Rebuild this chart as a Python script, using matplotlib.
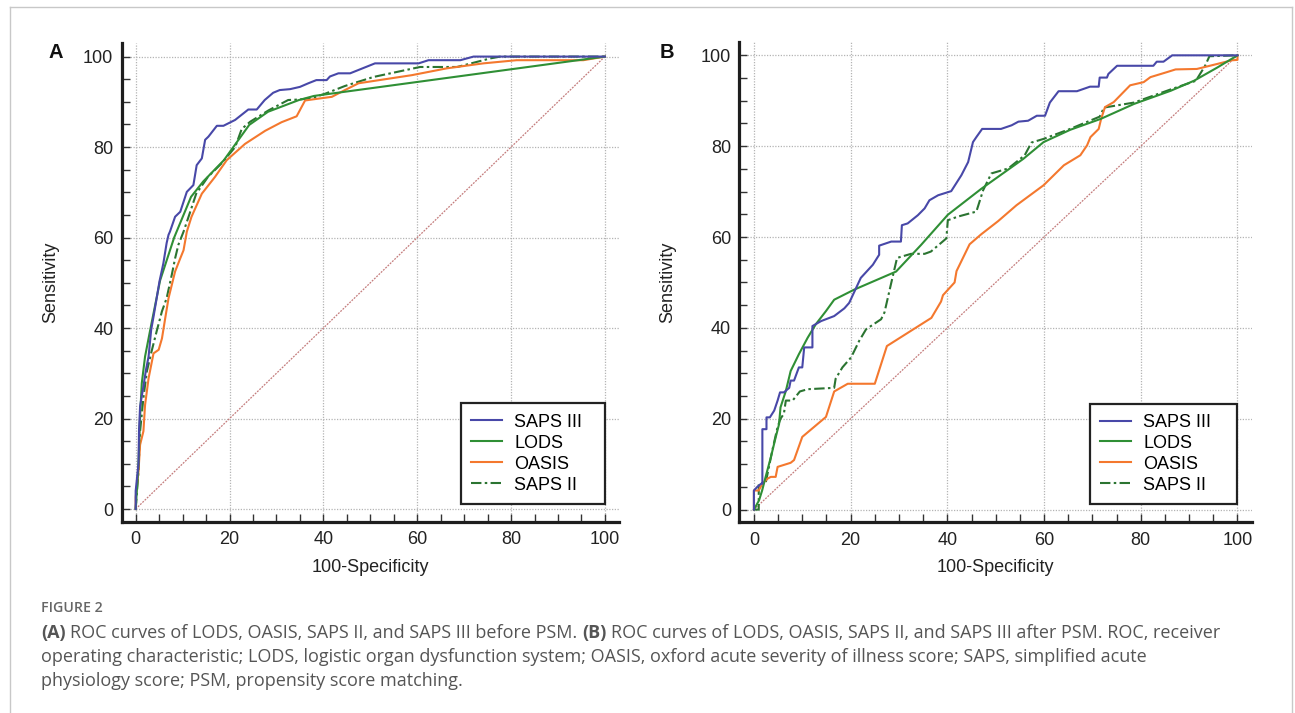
import numpy as np
import matplotlib
matplotlib.use("Agg")
import matplotlib.pyplot as plt
from matplotlib.ticker import MultipleLocator
from matplotlib.lines import Line2D

plt.rcParams["font.family"] = ["Liberation Sans", "DejaVu Sans"]

# ---- data: (100-specificity, sensitivity) ----
# panel A, before PSM
saps3_a = [(0, 0), (0, 4), (0.6, 10), (0.72, 17.6), (0.94, 22.7), (1.65, 27.1), (2.2, 30.8),
           (2.75, 33.7), (3.3, 39.6), (3.8, 42.5), (4.36, 45.9), (5.07, 50.3), (5.9, 54.3),
           (6.6, 58.8), (7.0, 60.6), (7.3, 61.3), (8.4, 64.6), (9.5, 65.7), (10.9, 70.1),
           (12.3, 71.6), (13.0, 76.0), (14.1, 77.5), (14.8, 81.6), (15.5, 82.3), (17.3, 84.7),
           (18.7, 84.7), (21.2, 86.0), (24.0, 88.3), (25.8, 88.3), (27.5, 90.4), (29.3, 92.0),
           (30.7, 92.6), (32.9, 92.8), (35.0, 93.3), (36.8, 94.1), (38.5, 94.8), (40.7, 94.8),
           (41.4, 95.6), (43.2, 96.3), (45.7, 96.3), (51.0, 98.5), (60.3, 98.5), (62.4, 99.2),
           (69.2, 99.2), (72.0, 100), (100, 100)]
lods_a = [(0, 0), (0.6, 10), (0.94, 20.5), (1.3, 27.8), (2.0, 33.7), (3.1, 39.6), (4.1, 44.8),
          (5.2, 50.5), (8.2, 60.0), (11.8, 69.0), (14.4, 72.4), (18.8, 77.1), (24.2, 84.9),
          (28.2, 87.8), (34.8, 90.4), (38.0, 91.3), (100, 100)]
oasis_a = [(0, 0), (0, 2.6), (0.6, 8.3), (0.94, 14.2), (1.65, 17.2), (2.0, 23.0), (2.75, 28.9),
           (3.8, 34.4), (4.9, 35.2), (5.6, 37.7), (6.3, 42.2), (7.0, 46.6), (8.4, 52.5),
           (9.5, 55.4), (10.2, 57.2), (10.9, 61.3), (11.9, 64.6), (14.1, 69.7), (16.9, 73.4),
           (19.4, 77.1), (23.3, 80.7), (27.6, 83.6), (31.1, 85.5), (34.3, 86.8), (36.1, 90.3),
           (38.9, 90.7), (41.8, 91.1), (44.6, 92.6), (47.5, 94.1), (58.9, 95.9), (66.3, 97.4),
           (74.1, 98.5), (81.2, 99.2), (95.4, 99.2), (100, 100)]
saps2_a = [(0, 0), (0.6, 8.3), (0.94, 17.2), (1.65, 24.6), (2.4, 30.5), (3.4, 34.9), (4.5, 39.4),
           (5.6, 43.7), (6.6, 46.6), (7.7, 51.8), (8.4, 55.4), (9.1, 58.4), (10.2, 61.3),
           (11.5, 65.3), (12.9, 69.7), (15.4, 73.4), (18.3, 76.4), (21.2, 80.0), (22.6, 84.0),
           (24.4, 85.6), (28.3, 88.1), (32.5, 90.4), (34.7, 90.5), (37.5, 90.8), (40.4, 91.8),
           (44.6, 93.5), (50.7, 95.5), (60.6, 97.7), (68.5, 97.7), (75.6, 99.6), (77.7, 100),
           (100, 100)]

# panel B, after PSM
saps3_b = [(0, 0), (0, 4.2), (0.7, 5.0), (1.5, 5.7), (1.75, 5.7), (1.75, 17.7), (2.6, 17.7),
           (2.6, 20.3), (3.3, 20.3), (4.2, 21.8), (4.9, 24.0), (5.4, 25.8), (6.2, 25.8),
           (7.3, 26.8), (7.6, 28.4), (8.3, 28.4), (9.3, 31.3), (10.0, 31.3), (10.4, 35.7),
           (12.1, 35.7), (12.1, 40.4), (13.9, 41.5), (16.6, 42.6), (18.7, 44.3), (19.7, 45.5),
           (22.1, 51.0), (24.6, 53.9), (25.9, 56.1), (25.9, 58.1), (28.4, 59.0), (30.4, 59.0),
           (30.6, 62.6), (31.8, 63.0), (33.9, 64.8), (35.3, 66.3), (36.3, 68.1), (38.1, 69.2),
           (40.8, 70.1), (42.9, 73.6), (44.3, 76.5), (45.3, 80.9), (46.0, 82.0), (47.2, 83.8),
           (51.1, 83.8), (53.3, 84.6), (54.7, 85.4), (56.7, 85.6), (58.5, 86.7), (60.2, 86.7),
           (61.2, 89.6), (63.0, 92.1), (66.8, 92.1), (69.5, 93.1), (71.3, 93.1), (71.5, 95.1),
           (73.0, 95.1), (73.3, 95.9), (75.1, 97.7), (82.6, 97.7), (83.3, 98.6), (84.7, 98.6),
           (86.5, 100), (100, 100)]
lods_b = [(0, 0), (1.05, 2.0), (1.7, 4.2), (2.4, 7.1), (3.5, 11.5), (4.5, 15.9), (5.2, 18.8),
          (5.5, 22.5), (6.6, 26.1), (7.6, 30.5), (9.3, 34.2), (11.1, 37.8), (12.8, 40.8),
          (14.9, 43.7), (16.6, 46.2), (20.7, 48.4), (29.4, 52.4), (34.6, 58.3), (40.1, 64.9),
          (47.0, 70.6), (55.7, 77.2), (59.9, 80.9), (65.4, 83.6), (71.7, 86.0), (78.6, 89.3),
          (86.2, 92.2), (91.0, 94.4), (95.8, 97.3), (100, 100)]
oasis_b = [(0, 0), (0, 4.2), (1.0, 4.2), (1.75, 5.7), (2.8, 6.8), (3.5, 7.2), (4.5, 7.2),
           (4.9, 9.4), (7.6, 10.3), (8.3, 10.9), (10.0, 16.0), (14.9, 20.4), (16.6, 26.0),
           (19.4, 27.7), (25.0, 27.7), (27.5, 36.0), (36.7, 42.2), (38.7, 45.8), (39.1, 47.2),
           (41.5, 50.0), (41.9, 52.5), (44.6, 58.4), (47.0, 60.6), (50.5, 63.5), (54.3, 67.0),
           (59.9, 71.4), (64.1, 75.8), (67.5, 78.0), (68.9, 80.2), (69.6, 82.0), (71.3, 83.8),
           (71.8, 86.0), (72.6, 88.6), (74.4, 89.7), (77.8, 93.4), (80.6, 94.1), (82.0, 95.2),
           (85.4, 96.3), (87.2, 96.9), (91.6, 97.0), (95.8, 98.1), (98.8, 98.9), (100, 99.0),
           (100, 100)]
saps2_b = [(0, 0), (1.0, 0), (1.0, 5.7), (2.4, 5.7), (3.8, 13.0), (4.9, 18.2), (5.5, 20.0),
           (6.2, 21.1), (6.6, 24.0), (8.0, 24.0), (9.5, 26.0), (11.1, 26.5), (16.6, 26.8),
           (16.9, 28.8), (18.3, 31.3), (20.1, 33.5), (21.8, 37.2), (23.2, 39.7), (26.3, 41.9),
           (27.0, 43.4), (28.4, 49.9), (29.6, 55.4), (32.5, 56.3), (35.3, 56.3), (36.6, 56.8),
           (39.8, 59.7), (40.1, 63.7), (42.2, 64.5), (46.0, 65.6), (47.4, 70.3), (49.1, 74.0),
           (52.6, 75.1), (56.0, 78.0), (57.4, 80.8), (59.9, 81.6), (65.4, 83.8), (71.5, 86.5),
           (72.4, 88.5), (78.6, 89.6), (86.2, 92.5), (91.4, 94.4), (93.3, 97.7), (94.2, 99.8),
           (100, 100)]

series_names = ["SAPS III", "LODS", "OASIS", "SAPS II"]
series_colors = ["#4848a8", "#2f8f35", "#f4782e", "#2b7431"]
series_styles = ["-", "-", "-", (0, (5, 1.6, 1.2, 1.6))]
panel_data = {"A": [saps3_a, lods_a, oasis_a, saps2_a],
              "B": [saps3_b, lods_b, oasis_b, saps2_b]}

W, H = 1295, 713
fig = plt.figure(figsize=(W / 100, H / 100), dpi=100)

# light frame around the figure
frame_kw = dict(color="#c8c8c8", lw=1.0, transform=fig.transFigure)
fig.add_artist(Line2D([10 / W, 1292 / W], [1 - 7 / H, 1 - 7 / H], **frame_kw))
fig.add_artist(Line2D([10 / W, 10 / W], [0, 1 - 7 / H], **frame_kw))
fig.add_artist(Line2D([1292 / W, 1292 / W], [0, 1 - 7 / H], **frame_kw))

# axes rectangles in pixels: left, top, right, bottom
rects = {"A": (121.6, 43, 619, 521.7), "B": (739.4, 41.7, 1252, 522.3)}
letter_pos = {"A": (55.5, 52.5), "B": (666.5, 53)}
legend_box = {"A": (0.682, 0.037, 0.290, 0.2), "B": (0.684, 0.038, 0.287, 0.2)}
ylabel_x = {"A": 51, "B": 668}

for key in ["A", "B"]:
    l, t, r, b = rects[key]
    ax = fig.add_axes([l / W, 1 - b / H, (r - l) / W, (b - t) / H])
    ax.set_xlim(-3, 103)
    ax.set_ylim(-2.8, 103)
    ax.xaxis.set_major_locator(MultipleLocator(20))
    ax.yaxis.set_major_locator(MultipleLocator(20))
    ax.xaxis.set_minor_locator(MultipleLocator(5))
    ax.yaxis.set_minor_locator(MultipleLocator(5))
    for s in ["top", "right"]:
        ax.spines[s].set_visible(False)
    for s in ["left", "bottom"]:
        ax.spines[s].set_linewidth(2.3)
        ax.spines[s].set_color("#1e1e1e")
    ax.tick_params(which="both", direction="in", length=6, width=1, color="#333333")
    ax.tick_params(which="major", labelsize=13, labelcolor="#222222")
    ax.tick_params(axis="x", pad=7)
    ax.tick_params(axis="y", pad=6)
    ax.grid(which="major", color="#b4b4b4", ls=(0, (1, 1.2)), lw=0.9)
    ax.set_axisbelow(True)

    ax.plot([0, 100], [0, 100], color="#c47c7c", lw=0.9, ls=(0, (1.5, 1)), zorder=2)

    handles = []
    for i in [3, 2, 1, 0]:
        pts = np.array(panel_data[key][i])
        ln, = ax.plot(pts[:, 0], pts[:, 1], color=series_colors[i], ls=series_styles[i],
                      lw=1.5, label=series_names[i], zorder=3 + (3 - i))
        handles.append(ln)
    handles = handles[::-1]

    leg = ax.legend(handles=handles, labels=series_names, loc="lower left",
                    bbox_to_anchor=legend_box[key], mode="expand", borderaxespad=0,
                    fontsize=13, frameon=True, fancybox=False, framealpha=1,
                    edgecolor="#222222", handlelength=1.72, handletextpad=0.67,
                    labelspacing=0.22, borderpad=0.57)
    leg.get_frame().set_linewidth(1.6)
    leg.set_zorder(10)

    ax.set_xlabel("100-Specificity", fontsize=13, color="#222222")
    ax.set_ylabel("Sensitivity", fontsize=13, color="#222222")
    ax.xaxis.set_label_coords(0.5, (b - 567) / (b - t))
    ax.yaxis.set_label_coords((ylabel_x[key] - l) / (r - l), 0.5)
    ax.xaxis.label.set_va("center")
    ax.yaxis.label.set_va("center")

    lx, ly = letter_pos[key]
    fig.text(lx / W, 1 - ly / H, key, fontsize=14.5, fontweight="bold",
             ha="center", va="center", color="#111111")

# ---- caption ----
cap_font = ["Open Sans", "DejaVu Sans"]
cap_color = "#555555"
cap_size = 13.0
fig.text(41 / W, 1 - 612 / H, "FIGURE 2", fontsize=10.2, fontweight="semibold",
         color="#666666", family=cap_font, va="baseline")

caption_lines = [
    [("(A)", "bold"), ("ROC curves of LODS, OASIS, SAPS II, and SAPS III before PSM.", "normal"),
     ("(B)", "bold"), ("ROC curves of LODS, OASIS, SAPS II, and SAPS III after PSM. ROC, receiver", "normal")],
    [("operating characteristic; LODS, logistic organ dysfunction system; OASIS, oxford acute "
      "severity of illness score; SAPS, simplified acute", "normal")],
    [("physiology score; PSM, propensity score matching.", "normal")],
]
baselines = [638, 662, 686]

renderer = fig.canvas.get_renderer()
probe = fig.text(0, 0, "a a", fontsize=cap_size, family=cap_font)
probe2 = fig.text(0, 0, "aa", fontsize=cap_size, family=cap_font)
space_w = probe.get_window_extent(renderer).width - probe2.get_window_extent(renderer).width
probe.remove()
probe2.remove()

for pieces, yb in zip(caption_lines, baselines):
    x = 41.0
    for txt, wt in pieces:
        t = fig.text(x / W, 1 - yb / H, txt, fontsize=cap_size, fontweight=wt,
                     family=cap_font, color=cap_color, va="baseline")
        x += t.get_window_extent(renderer).width + space_w

fig.savefig("out.png", dpi=100)
